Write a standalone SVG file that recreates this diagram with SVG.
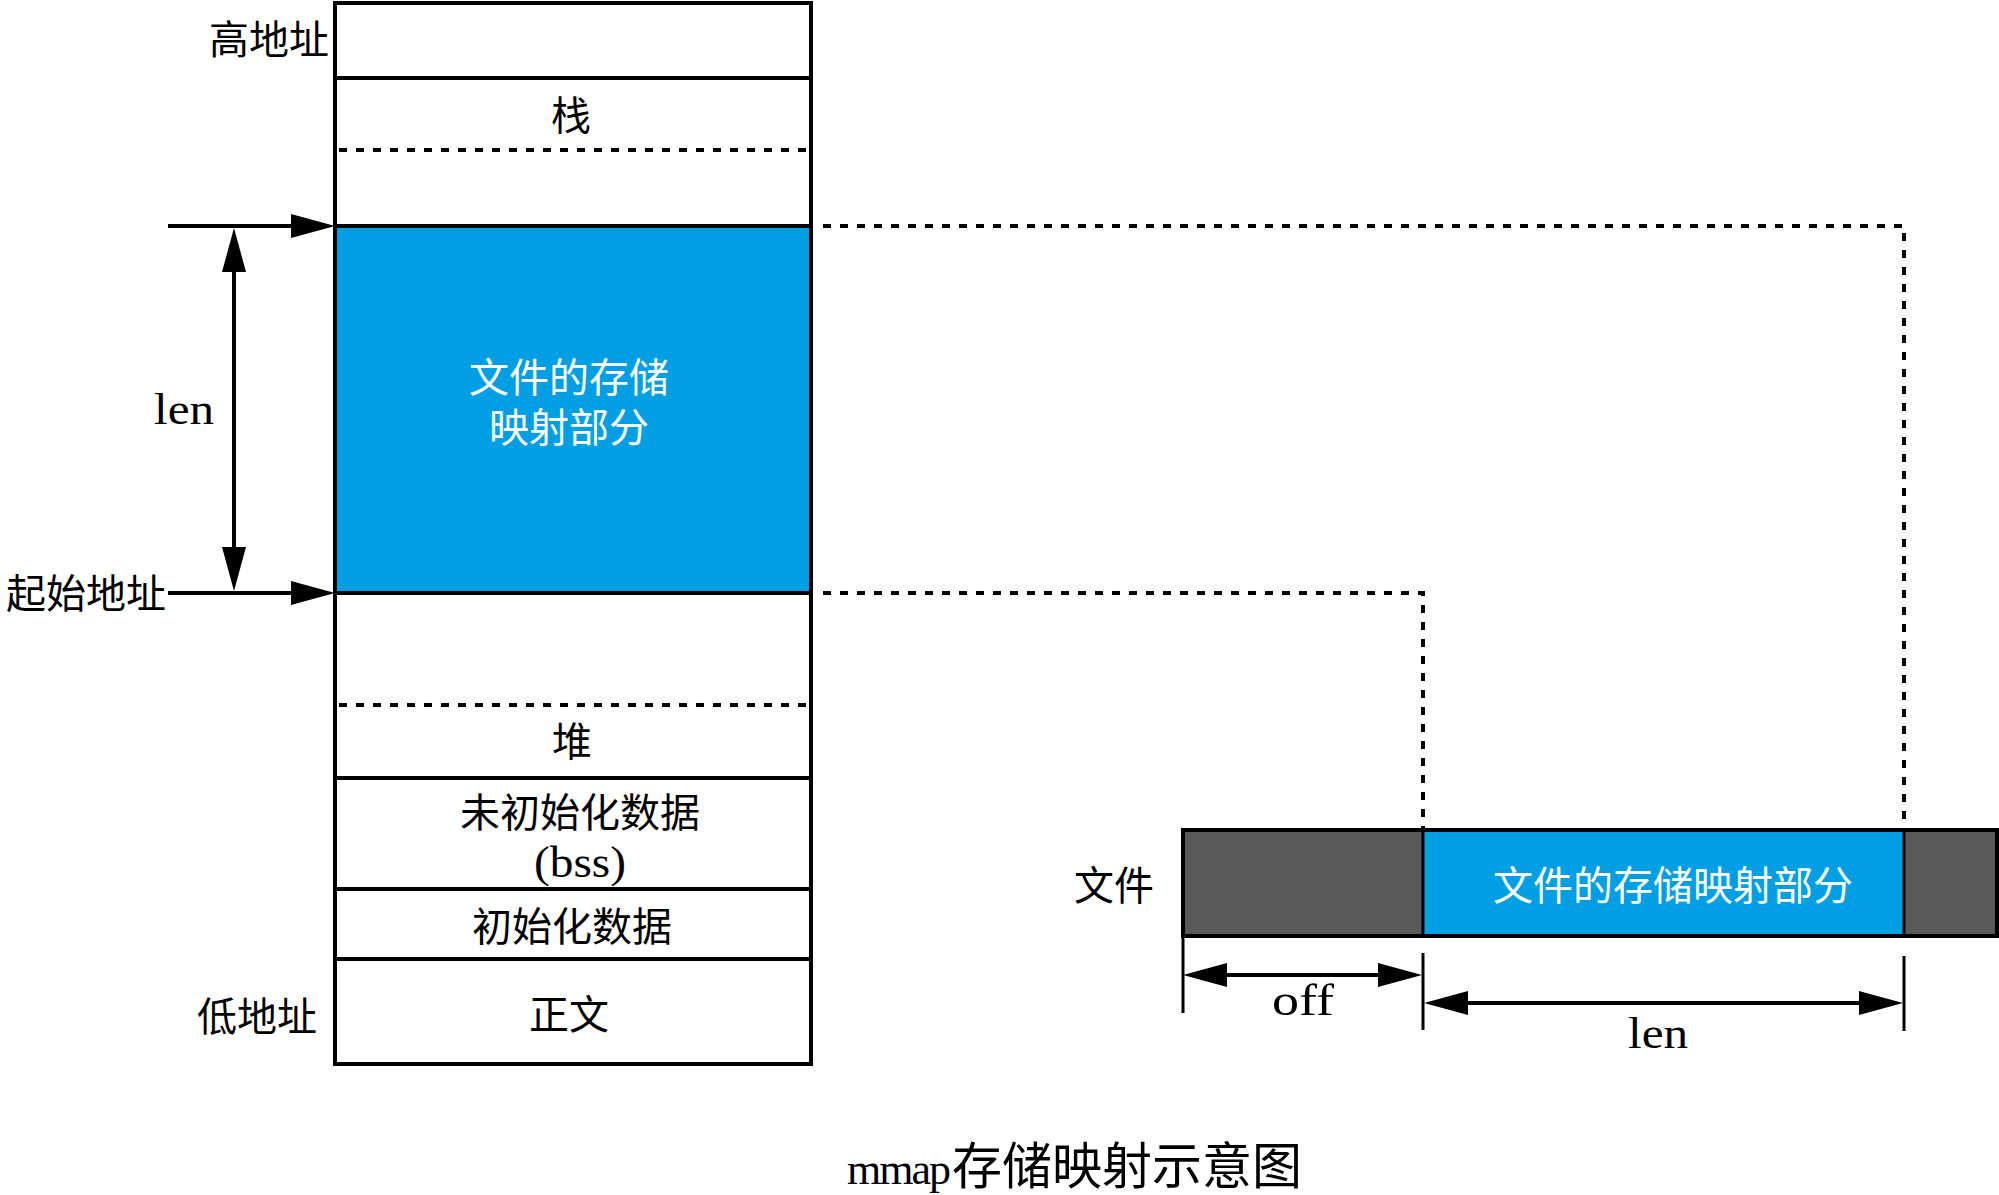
<svg xmlns="http://www.w3.org/2000/svg" width="1999" height="1195" viewBox="0 0 1999 1195">
<style>
.cjk{font-family:"Liberation Sans","Noto Sans CJK SC",sans-serif;font-size:40px;fill:#000}
.lat{font-family:"Liberation Serif","Noto Sans CJK SC",serif;font-size:44px;fill:#000}
.w{fill:#fff}
.mid{text-anchor:middle}
.end{text-anchor:end}
.box{fill:none;stroke:#000;stroke-width:4}
.sep{stroke:#000;stroke-width:4;fill:none}
.dot{stroke:#000;stroke-width:4;stroke-dasharray:8 9;fill:none}
.arr{stroke:#000;stroke-width:4;fill:none}
.tick{stroke:#000;stroke-width:3;fill:none}
</style>
<defs>
<marker id="ah" markerUnits="userSpaceOnUse" markerWidth="46" markerHeight="26" refX="36" refY="12" orient="auto-start-reverse" overflow="visible">
<path d="M0,0 L44,12 L0,24 z" fill="#000"/>
</marker>
</defs>
<rect width="1999" height="1195" fill="#fff"/>

<g id="mem-high">
<rect x="335" y="3" width="476" height="75" fill="#fff"/>
<text class="cjk end" x="329" y="54">高地址</text>
</g>
<g id="mem-stack">
<text class="cjk mid" x="571" y="130">栈</text>
<line class="dot" x1="339" y1="150" x2="809" y2="150"/>
</g>
<g id="mem-mapped">
<rect x="335" y="226" width="476" height="367" fill="#009fe3"/>
<text class="cjk mid w" x="569" y="392">文件的存储<tspan x="569" dy="50">映射部分</tspan></text>
</g>
<g id="mem-heap">
<line class="dot" x1="339" y1="705" x2="809" y2="705"/>
<text class="cjk mid" x="572" y="756">堆</text>
</g>
<g id="mem-bss">
<text class="cjk mid" x="580" y="827">未初始化数据<tspan class="lat" x="580" dy="50" textLength="92" lengthAdjust="spacingAndGlyphs">(bss)</tspan></text>
</g>
<g id="mem-data">
<text class="cjk mid" x="572" y="941">初始化数据</text>
</g>
<g id="mem-text">
<text class="cjk mid" x="569" y="1029">正文</text>
<text class="cjk end" x="317" y="1031">低地址</text>
</g>
<g id="mem-frame">
<line class="sep" x1="335" y1="78" x2="811" y2="78"/>
<line class="sep" x1="335" y1="226" x2="811" y2="226"/>
<line class="sep" x1="335" y1="593" x2="811" y2="593"/>
<line class="sep" x1="335" y1="778" x2="811" y2="778"/>
<line class="sep" x1="335" y1="889" x2="811" y2="889"/>
<line class="sep" x1="335" y1="959" x2="811" y2="959"/>
<rect class="box" x="335" y="3" width="476" height="1061"/>
</g>

<g id="label-start">
<text class="cjk end" x="166" y="608">起始地址</text>
</g>
<g id="label-len-left">
<text class="lat mid" x="184" y="424" textLength="60" lengthAdjust="spacingAndGlyphs">len</text>
</g>

<g id="file-bar">
<rect x="1183" y="830" width="240" height="106" fill="#595959"/>
<rect x="1423" y="830" width="481" height="106" fill="#009fe3"/>
<rect x="1904" y="830" width="93" height="106" fill="#595959"/>
<line class="tick" x1="1423" y1="830" x2="1423" y2="936"/>
<line class="tick" x1="1904" y1="830" x2="1904" y2="936"/>
<rect class="box" x="1183" y="830" width="814" height="106"/>
<text class="cjk mid w" x="1673" y="900">文件的存储映射部分</text>
</g>
<g id="label-file">
<text class="cjk end" x="1154" y="900">文件</text>
</g>
<g id="label-off">
<text class="lat mid" x="1303" y="1015" textLength="62" lengthAdjust="spacingAndGlyphs">off</text>
</g>
<g id="label-len-bottom">
<text class="lat mid" x="1658" y="1048" textLength="60" lengthAdjust="spacingAndGlyphs">len</text>
</g>

<g id="connectors">
<line class="arr" x1="168" y1="226" x2="327" y2="226" marker-end="url(#ah)"/>
<line class="arr" x1="168" y1="593" x2="327" y2="593" marker-end="url(#ah)"/>
<line class="arr" x1="234" y1="236" x2="234" y2="583" marker-start="url(#ah)" marker-end="url(#ah)"/>
<polyline class="dot" points="823,226 1904,226 1904,828"/>
<polyline class="dot" points="823,593 1423,593 1423,828"/>
<line class="tick" x1="1183" y1="936" x2="1183" y2="1013"/>
<line class="tick" x1="1423" y1="953" x2="1423" y2="1030"/>
<line class="tick" x1="1904" y1="956" x2="1904" y2="1031"/>
<line class="arr" x1="1191" y1="975" x2="1414" y2="975" marker-start="url(#ah)" marker-end="url(#ah)"/>
<line class="arr" x1="1432" y1="1003" x2="1895" y2="1003" marker-start="url(#ah)" marker-end="url(#ah)"/>
</g>

<g id="title">
<text class="cjk" x="847" y="1184" style="font-size:50px"><tspan class="lat" style="font-size:44px;letter-spacing:-2px">mmap</tspan><tspan dx="3">存储映射示意图</tspan></text>
</g>
</svg>
